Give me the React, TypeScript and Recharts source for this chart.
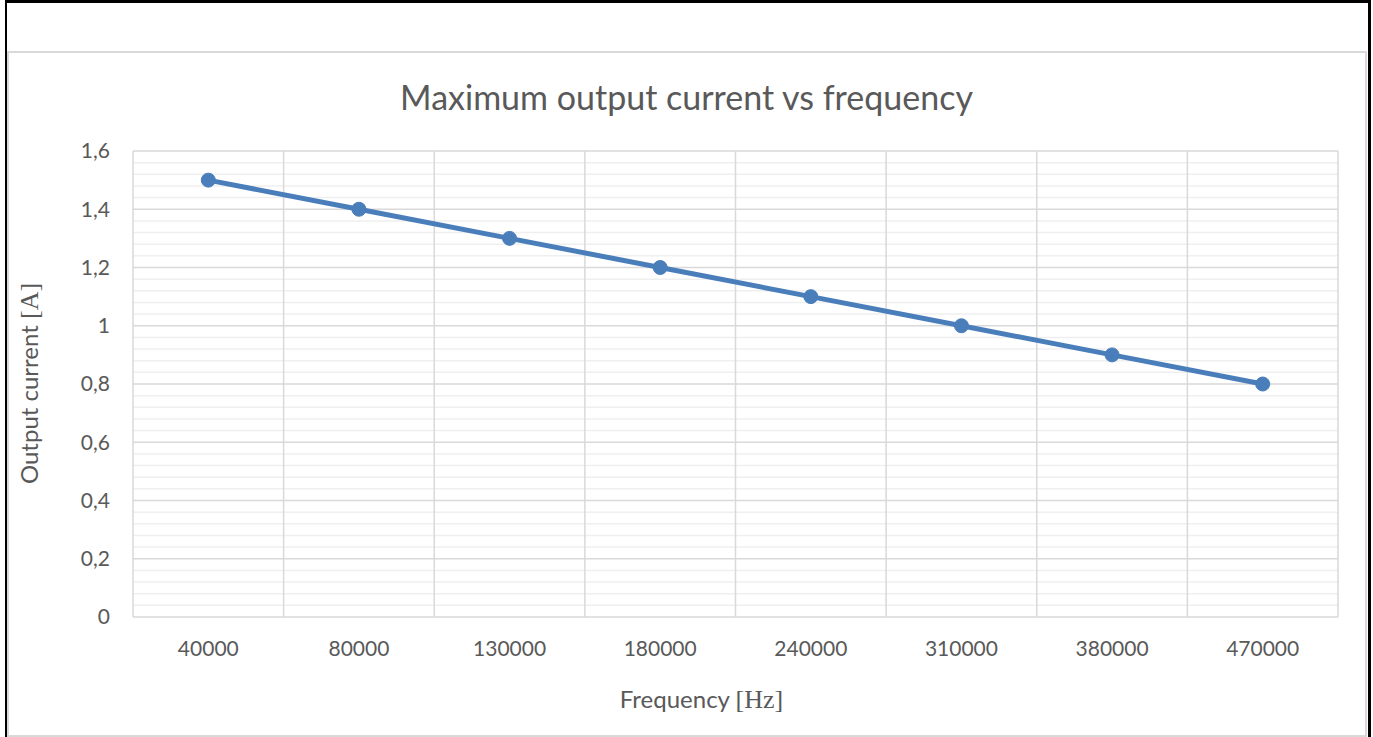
import React from "react";
import {
  ComposedChart,
  Line,
  XAxis,
  YAxis,
  CartesianGrid,
  ReferenceLine,
} from "recharts";

const frequencies = ["40000", "80000", "130000", "180000", "240000", "310000", "380000", "470000"];
const outputCurrent = [1.5, 1.4, 1.3, 1.2, 1.1, 1.0, 0.9, 0.8];
const yTicks = [0, 0.2, 0.4, 0.6, 0.8, 1.0, 1.2, 1.4, 1.6];
const yMinorTicks = [
  0.04, 0.08, 0.12, 0.16, 0.24, 0.28, 0.32, 0.36, 0.44, 0.48, 0.52, 0.56,
  0.64, 0.68, 0.72, 0.76, 0.84, 0.88, 0.92, 0.96, 1.04, 1.08, 1.12, 1.16,
  1.24, 1.28, 1.32, 1.36, 1.44, 1.48, 1.52, 1.56,
];
const bandEdges = [0, 1, 2, 3, 4, 5, 6, 7, 8];

const data = frequencies.map((f, i) => ({ freq: f, pos: i + 0.5, current: outputCurrent[i] }));

const FONT = "Lato, 'Open Sans', sans-serif";
const TEXT = "#595959";
const LINE = "#4A7EBB";

const fmt = (v: number) => String(Math.round(v * 10) / 10).replace(".", ",");

export default function App() {
  return (
    <div style={{ position: "absolute", left: 0, top: 0, width: 1373, height: 737, background: "#fff", overflow: "hidden" }}>
      {/* outer black frame */}
      <div style={{ position: "absolute", left: 5, top: 0, width: 1366, height: 760, borderTop: "3px solid #000", borderLeft: "2px solid #000", borderRight: "3px solid #000", boxSizing: "border-box" }} />
      {/* chart area grey border */}
      <div style={{ position: "absolute", left: 7, top: 51, width: 1360, height: 686, border: "2px solid #D9D9D9", boxSizing: "border-box" }} />
      <div style={{ position: "absolute", left: 0, top: 0 }}>
        <ComposedChart
          width={1373}
          height={737}
          data={data}
          margin={{ top: 151, right: 35, bottom: 90, left: 73 }}
        >
          <XAxis xAxisId="edges" dataKey="pos" type="number" domain={[0, 8]} allowDataOverflow hide />
          {yMinorTicks.map((v) => (
            <ReferenceLine key={"m" + v} xAxisId="edges" y={v} stroke="#EFEFEF" strokeWidth={1.5} ifOverflow="hidden" />
          ))}
          <CartesianGrid vertical={false} stroke="#D9D9D9" strokeWidth={1.5} xAxisId="edges" />
          {bandEdges.map((v) => (
            <ReferenceLine key={"e" + v} xAxisId="edges" x={v} stroke="#D9D9D9" strokeWidth={1.5} />
          ))}
          <XAxis
            dataKey="freq"
            type="category"
            scale="band"
            axisLine={false}
            tickLine={false}
            tickSize={0}
            tickMargin={24}
            height={30}
            interval={0}
            tick={{ fill: TEXT, fontSize: 21, fontFamily: FONT }}
          />
          <YAxis
            type="number"
            domain={[0, 1.6]}
            ticks={yTicks}
            tickFormatter={fmt}
            axisLine={false}
            tickLine={false}
            tickSize={0}
            tickMargin={23}
            width={60}
            tick={{ fill: TEXT, fontSize: 21, fontFamily: FONT }}
          />
          <Line
            dataKey="current"
            stroke={LINE}
            strokeWidth={5}
            dot={{ r: 7, fill: LINE, stroke: LINE, strokeWidth: 1 }}
            isAnimationActive={false}
          />
        </ComposedChart>
      </div>
      {/* title */}
      <div style={{ position: "absolute", left: 0, width: 1373, top: 76, textAlign: "center", fontFamily: FONT, fontSize: 34, color: TEXT, lineHeight: "42px" }}>
        Maximum output current vs frequency
      </div>
      {/* x label */}
      <div style={{ position: "absolute", left: 0, width: 1403, top: 684, textAlign: "center", fontFamily: FONT, fontSize: 24, color: TEXT, lineHeight: "30px" }}>
        Frequency <span style={{ fontFamily: "'Liberation Serif', serif", fontSize: 26 }}>[Hz]</span>
      </div>
      {/* y label */}
      <div style={{ position: "absolute", left: 29 - 150, width: 300, top: 383 - 15, textAlign: "center", fontFamily: FONT, fontSize: 24, color: TEXT, lineHeight: "30px", transform: "rotate(-90deg)" }}>
        Output current <span style={{ fontFamily: "'Liberation Serif', serif", fontSize: 26 }}>[A]</span>
      </div>
    </div>
  );
}
